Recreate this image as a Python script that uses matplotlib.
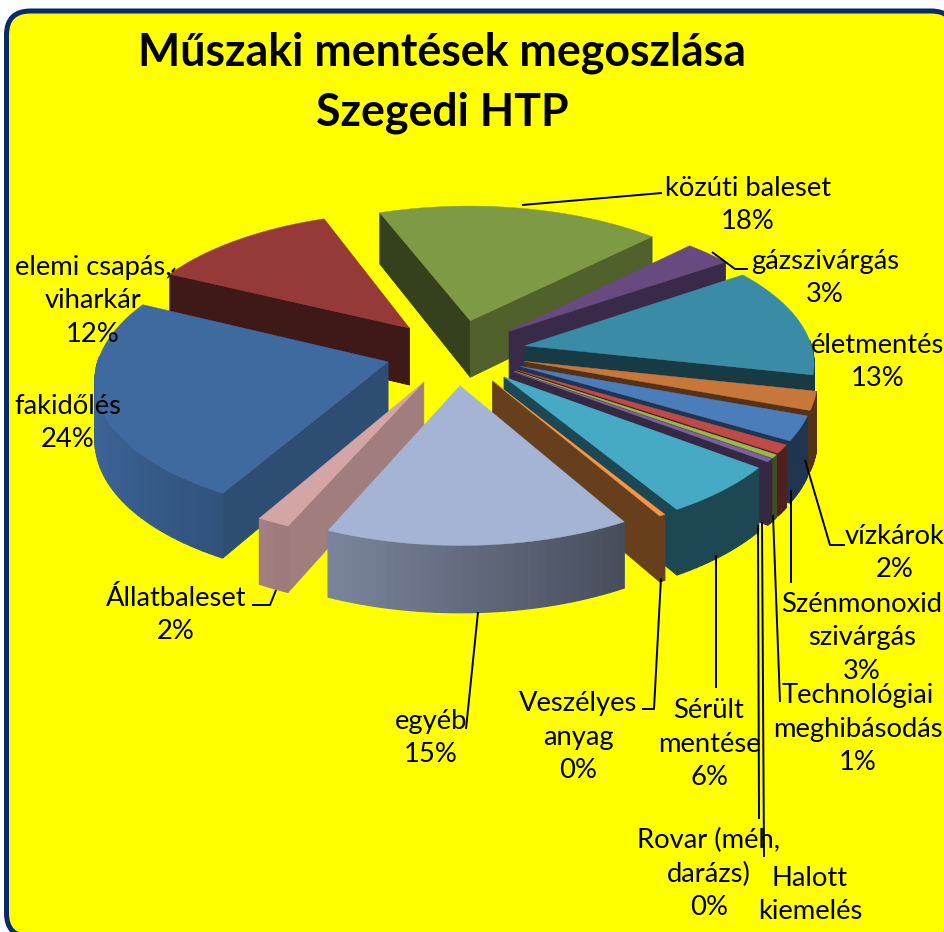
import numpy as np
import matplotlib
matplotlib.use("Agg")
import matplotlib.pyplot as plt
from matplotlib.patches import Polygon, FancyBboxPatch

categories = ["közúti baleset", "gázszivárgás", "életmentés", "vízkárok", "Szénmonoxid\nszivárgás",
              "Technológiai\nmeghibásodás", "Halott\nkiemelés", "Rovar (méh,\ndarázs)", "Sérült\nmentése",
              "Veszélyes\nanyag", "egyéb", "Állatbaleset", "fakidőlés", "elemi csapás,\nviharkár"]
values = [18, 3, 13, 2.2, 2.9, 1, 0.4, 0.4, 6, 0.3, 14.8, 1.6, 24, 12]
percent_labels = ["18%", "3%", "13%", "2%", "3%", "1%", "", "0%", "6%", "0%", "15%", "2%", "24%", "12%"]
colors = ["#7f9a45", "#664a80", "#3a8ba5", "#c8773a", "#4b7dbb", "#be4b48", "#98b954", "#7d60a0",
          "#46aac5", "#f79646", "#a5b4d4", "#d4a5a5", "#3f6a9f", "#953a38"]

label_pos = [(748, 205), (825, 278), (878, 362), (895, 553), (862, 638), (858, 729),
             (810, 895), (709, 874), (709, 744), (578, 737), (431, 738), (176, 615), (68, 423), (93, 301)]
leaders = [[(662, 193), (522, 205)], [(748, 269), (735, 269), (712, 252)], [],
           [(845, 545), (830, 545), (805, 460)],
           [(791, 583), (791, 490)], [(780, 702), (773, 515)], [(764, 857), (762, 522)],
           [(759, 819), (758, 525)], [(716, 688), (716, 555)], [(642, 709), (654, 709), (661, 578)],
           [(466, 729), (478, 612)], [(252, 605), (270, 605), (276, 590)], [], [(172, 272), (175, 268)]]

W, H_PX = 945, 932
fig = plt.figure(figsize=(W / 100, H_PX / 100), dpi=100, facecolor="white")
ax = fig.add_axes([0, 0, 1, 1])
ax.set_xlim(0, W); ax.set_ylim(H_PX, 0); ax.axis("off")

ax.add_patch(FancyBboxPatch((6.5 + 24, 11 + 24), 945 - 6.5 - 48 + 10, 926 - 48, boxstyle="round,pad=24,rounding_size=24",
                            fc="#ffff00", ec="#0b2a6b", lw=3.6, zorder=0))

CX, CY, R, K, DEPTH, D, EXPL, START = 456, 352, 288, 0.465, 58, 9.0, 0.245, -20.5


def proj(wx, wy, wz=0.0):
    s = D / (D + wy)
    return CX + R * wx * s, CY - R * K * wy * s + DEPTH * wz * s


def shade(col, f):
    c = np.array(matplotlib.colors.to_rgb(col))
    return tuple(np.clip(c * f, 0, 1))


def radial_shade(normal):
    return 0.42 + max(0.0, 170 - normal % 360) / 60 * 0.36


fractions = np.array(values) / np.sum(values) * 360
edges = START + np.concatenate([[0], np.cumsum(fractions)])
order = sorted(range(len(values)), key=lambda i: -np.cos(np.radians((edges[i] + edges[i + 1]) / 2)))
z = 2
for i in order:
    a0, a1 = edges[i], edges[i + 1]
    mid = np.radians((a0 + a1) / 2)
    ox, oy = EXPL * np.sin(mid), EXPL * np.cos(mid)
    th = np.radians(np.linspace(a0, a1, max(3, int((a1 - a0) / 1.5) + 2)))
    xs, ys = ox + np.sin(th), oy + np.cos(th)
    for (ex, ey), n in (((xs[0], ys[0]), a0 - 90), ((xs[-1], ys[-1]), a1 + 90)):
        if np.cos(np.radians(n)) < 0:
            pts = [proj(ox, oy), proj(ex, ey), proj(ex, ey, 1), proj(ox, oy, 1)]
            col = shade(colors[i], radial_shade(n))
            ax.add_patch(Polygon(pts, fc=col, ec=col, lw=0.6, zorder=z))
    for j in range(len(th) - 1):
        tm = (th[j] + th[j + 1]) / 2
        if np.cos(tm) > 0.05:
            continue
        f = max(0.42, 0.6 - 0.35 * np.sin(tm))
        pts = [proj(xs[j], ys[j]), proj(xs[j + 1], ys[j + 1]), proj(xs[j + 1], ys[j + 1], 1), proj(xs[j], ys[j], 1)]
        col = shade(colors[i], f)
        ax.add_patch(Polygon(pts, fc=col, ec=col, lw=0.9, zorder=z))
    top = [proj(ox, oy)] + [proj(x, y) for x, y in zip(xs, ys)]
    ax.add_patch(Polygon(top, fc=colors[i], ec=colors[i], lw=0.3, zorder=z + 0.5))
    z += 1

for seg in leaders:
    if seg:
        ax.plot(*zip(*seg), color="black", lw=1.4, zorder=50, solid_capstyle="butt")

FONT = "Lato"
for name, pct, (x, y) in zip(categories, percent_labels, label_pos):
    txt = name + "\n" + pct if pct else name
    ax.text(x, y, txt, ha="center", va="center", fontsize=19.7, family=FONT,
            linespacing=1.42, zorder=60)
ax.text(442, 83, "Műszaki mentések megoszlása\nSzegedi HTP", ha="center", va="center", fontsize=32.1,
        family=FONT, fontweight="bold", linespacing=1.5, zorder=60)

fig.savefig("out.png", dpi=100)
